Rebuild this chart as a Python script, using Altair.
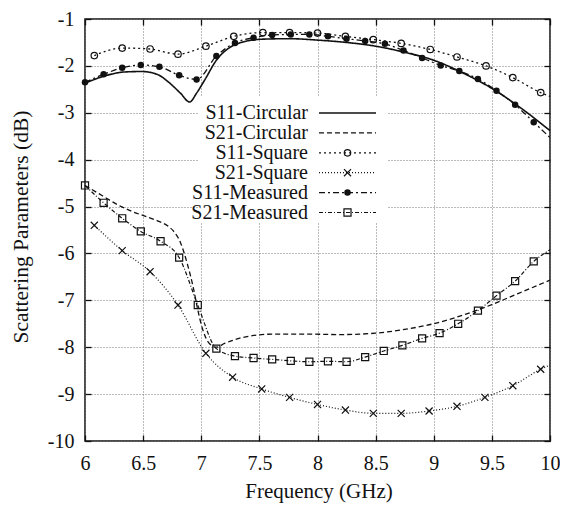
import altair as alt
import pandas as pd

FONT = "Liberation Serif"

# ---------------- data ----------------
s11_circ_f = [6.00, 6.19, 6.34, 6.49, 6.62, 6.73, 6.82, 6.90, 6.96, 7.03, 7.13, 7.25, 7.36,
              7.53, 7.76, 8.00, 8.25, 8.50, 8.75, 9.00, 9.25, 9.50, 9.75, 10.00]
s11_circ_db = [-2.37, -2.20, -2.13, -2.12, -2.18, -2.37, -2.58, -2.77, -2.58, -2.30, -1.88, -1.60, -1.49,
               -1.43, -1.42, -1.45, -1.50, -1.58, -1.71, -1.88, -2.15, -2.48, -2.90, -3.38]

s21_circ_f = [6.00, 6.15, 6.28, 6.40, 6.51, 6.62, 6.71, 6.76, 6.82, 6.88, 6.93, 6.97, 7.01,
              7.06, 7.13, 7.20, 7.36, 7.62, 7.90, 8.20, 8.50, 8.75, 8.98, 9.27, 9.50, 9.73, 10.00]
s21_circ_db = [-4.55, -4.77, -4.96, -5.10, -5.20, -5.30, -5.41, -5.52, -5.76, -6.22, -6.71, -7.20, -7.60,
               -7.89, -8.00, -7.92, -7.79, -7.72, -7.72, -7.73, -7.70, -7.62, -7.51, -7.30, -7.09, -6.85, -6.57]

s11_sq_f = [6.08, 6.32, 6.56, 6.80, 7.04, 7.28, 7.53, 7.76, 8.00, 8.24, 8.48, 8.72, 8.97, 9.20,
            9.45, 9.68, 9.92]
s11_sq_db = [-1.78, -1.62, -1.64, -1.75, -1.58, -1.37, -1.29, -1.29, -1.30, -1.37, -1.44, -1.52,
             -1.65, -1.81, -2.00, -2.25, -2.57]
s11_sq_end = (10.00, -2.65)

s21_sq_f = [6.08, 6.32, 6.56, 6.80, 7.04, 7.27, 7.52, 7.76, 8.00, 8.24, 8.48, 8.72, 8.96, 9.20,
            9.44, 9.68, 9.92]
s21_sq_db = [-5.40, -5.94, -6.39, -7.10, -8.13, -8.64, -8.89, -9.07, -9.22, -9.34, -9.41, -9.41,
             -9.36, -9.26, -9.07, -8.82, -8.47]
s21_sq_end = (10.00, -8.38)

s11_meas_f = [6.00, 6.16, 6.32, 6.48, 6.64, 6.81, 6.96, 7.13, 7.29, 7.45, 7.61, 7.77, 7.93, 8.09,
              8.25, 8.41, 8.58, 8.74, 8.90, 9.06, 9.22, 9.38, 9.54, 9.70, 9.86]
s11_meas_db = [-2.35, -2.18, -2.04, -1.98, -2.02, -2.20, -2.29, -1.79, -1.51, -1.40, -1.34, -1.33,
               -1.33, -1.37, -1.42, -1.47, -1.53, -1.67, -1.83, -1.99, -2.11, -2.28, -2.53, -2.83, -3.20]
s11_meas_end = (10.00, -3.53)

s21_meas_f = [6.00, 6.16, 6.32, 6.48, 6.65, 6.81, 6.97, 7.13, 7.29, 7.45, 7.61, 7.77, 7.93, 8.09,
              8.25, 8.41, 8.57, 8.73, 8.90, 9.05, 9.21, 9.38, 9.54, 9.70, 9.86]
s21_meas_db = [-4.55, -4.92, -5.25, -5.53, -5.74, -6.09, -7.10, -8.03, -8.19, -8.23, -8.26, -8.29,
               -8.31, -8.30, -8.31, -8.21, -8.08, -7.96, -7.81, -7.70, -7.50, -7.22, -6.90, -6.59, -6.17]
s21_meas_end = (10.00, -5.92)

series_names = ["S11-Circular", "S21-Circular", "S11-Square", "S21-Square", "S11-Measured", "S21-Measured"]
x_ticks = [6, 6.5, 7, 7.5, 8, 8.5, 9, 9.5, 10]
y_ticks = [-1, -2, -3, -4, -5, -6, -7, -8, -9, -10]

# ---------------- styles ----------------
W, H = 465, 422
TICK = 6
INK = "#111111"
X_CROSS = "M-1,-1L1,1M-1,1L1,-1"

styles = {
    "S11-Circular": dict(dash=[1, 0], width=1.6, shape=None, filled=False, size=0),
    "S21-Circular": dict(dash=[5, 3], width=1.3, shape=None, filled=False, size=0),
    "S11-Square": dict(dash=[2, 3], width=1.3, shape="circle", filled=False, size=42),
    "S21-Square": dict(dash=[1, 2], width=1.2, shape=X_CROSS, filled=False, size=50),
    "S11-Measured": dict(dash=[6, 3, 2, 3], width=1.3, shape="circle", filled=True, size=42),
    "S21-Measured": dict(dash=[4, 2, 1, 2], width=1.2, shape="square", filled=False, size=50),
}

xs = alt.Scale(domain=[6, 10], nice=False, zero=False)
ys = alt.Scale(domain=[-10, -1], nice=False, zero=False)

ax_bottom = alt.Axis(
    orient="bottom", values=x_ticks, labelExpr="'' + datum.value",
    grid=True, gridDash=[1, 2], gridColor="#777777", gridWidth=1,
    domain=False, ticks=True, tickSize=TICK, offset=-TICK, tickColor=INK, tickWidth=1.3,
    labelFont=FONT, labelFontSize=20, labelColor=INK, labelPadding=22, labelBaseline="middle",
    labelFlush=False, labelOverlap=False,
    title="Frequency (GHz)", titleFont=FONT, titleFontSize=21, titleFontWeight="normal",
    titleColor=INK, titleX=233.5, titleY=56, titleBaseline="middle",
)
ax_top = alt.Axis(
    orient="top", values=x_ticks, labels=False, grid=False, domain=False, ticks=True,
    tickSize=TICK, offset=-TICK, tickColor=INK, tickWidth=1.3, title=None,
)
ax_left = alt.Axis(
    orient="left", values=y_ticks, labelExpr="'' + datum.value",
    grid=True, gridDash=[1, 2], gridColor="#777777", gridWidth=1,
    domain=False, ticks=True, tickSize=TICK, offset=-TICK, tickColor=INK, tickWidth=1.3,
    labelFont=FONT, labelFontSize=20, labelColor=INK, labelPadding=11,
    labelFlush=False, labelOverlap=False,
    title="Scattering Parameters (dB)", titleFont=FONT, titleFontSize=21.5, titleFontWeight="normal",
    titleColor=INK, titleX=-70, titleY=207.5, titleBaseline="middle", titleAngle=-90,
)
ax_right = alt.Axis(
    orient="right", values=y_ticks, labels=False, grid=False, domain=False, ticks=True,
    tickSize=TICK, offset=-TICK, tickColor=INK, tickWidth=1.3, title=None,
)


def line_df(f, db, end=None):
    ff, dd = list(f), list(db)
    if end is not None:
        ff.append(end[0])
        dd.append(end[1])
    return pd.DataFrame({"f": ff, "db": dd})


line_data = {
    "S11-Circular": line_df(s11_circ_f, s11_circ_db),
    "S21-Circular": line_df(s21_circ_f, s21_circ_db),
    "S11-Square": line_df(s11_sq_f, s11_sq_db, s11_sq_end),
    "S21-Square": line_df(s21_sq_f, s21_sq_db, s21_sq_end),
    "S11-Measured": line_df(s11_meas_f, s11_meas_db, s11_meas_end),
    "S21-Measured": line_df(s21_meas_f, s21_meas_db, s21_meas_end),
}
marker_data = {
    "S11-Square": line_df(s11_sq_f, s11_sq_db),
    "S21-Square": line_df(s21_sq_f, s21_sq_db),
    "S11-Measured": line_df(s11_meas_f, s11_meas_db),
    "S21-Measured": line_df(s21_meas_f, s21_meas_db),
}

layers = []

# legend background (covers the grid behind the legend)
legend_box = alt.Chart(pd.DataFrame({"k": [0]})).mark_rect(fill="white", stroke=None).encode(
    x=alt.value(113), x2=alt.value(303), y=alt.value(78), y2=alt.value(203)
)
layers.append(legend_box)

axis_slot = {"S11-Circular": (ax_bottom, ax_left), "S21-Circular": (ax_top, ax_right)}

for name in series_names:
    st = styles[name]
    xa, ya = axis_slot.get(name, (None, None))
    ln = alt.Chart(line_data[name]).mark_line(
        interpolate="monotone", color=INK, strokeWidth=st["width"], strokeDash=st["dash"]
    ).encode(
        x=alt.X("f:Q", scale=xs, axis=xa),
        y=alt.Y("db:Q", scale=ys, axis=ya),
    )
    layers.append(ln)

for name, df in marker_data.items():
    st = styles[name]
    pt = alt.Chart(df).mark_point(
        shape=st["shape"], filled=st["filled"], size=st["size"], color=INK,
        strokeWidth=1.2, opacity=1,
    ).encode(
        x=alt.X("f:Q", scale=xs, axis=None),
        y=alt.Y("db:Q", scale=ys, axis=None),
    )
    layers.append(pt)

# legend entries: label on the left, line sample (+ marker) on the right
ROW0, DROW = 94, 19.9
for i, name in enumerate(series_names):
    st = styles[name]
    yy = ROW0 + DROW * i
    one = pd.DataFrame({"label": [name]})
    layers.append(
        alt.Chart(one).mark_text(
            align="right", baseline="middle", font=FONT, fontSize=20, color=INK
        ).encode(x=alt.value(223), y=alt.value(yy), text="label:N")
    )
    layers.append(
        alt.Chart(one).mark_rule(
            color=INK, strokeWidth=st["width"], strokeDash=st["dash"]
        ).encode(x=alt.value(234), x2=alt.value(291), y=alt.value(yy))
    )
    if st["shape"] is not None:
        layers.append(
            alt.Chart(one).mark_point(
                shape=st["shape"], filled=st["filled"], size=st["size"], color=INK,
                strokeWidth=1.2, opacity=1,
            ).encode(x=alt.value(262.5), y=alt.value(yy))
        )

chart = alt.layer(*layers).resolve_axis(x="independent", y="independent").properties(
    width=W, height=H,
    autosize=alt.AutoSizeParams(type="none"),
    padding={"left": 77, "top": 11, "right": 10, "bottom": 62},
    background="white",
).configure_view(stroke=INK, strokeWidth=1.5)

chart.save("out.html", embed_options={"renderer": "svg", "actions": False})
